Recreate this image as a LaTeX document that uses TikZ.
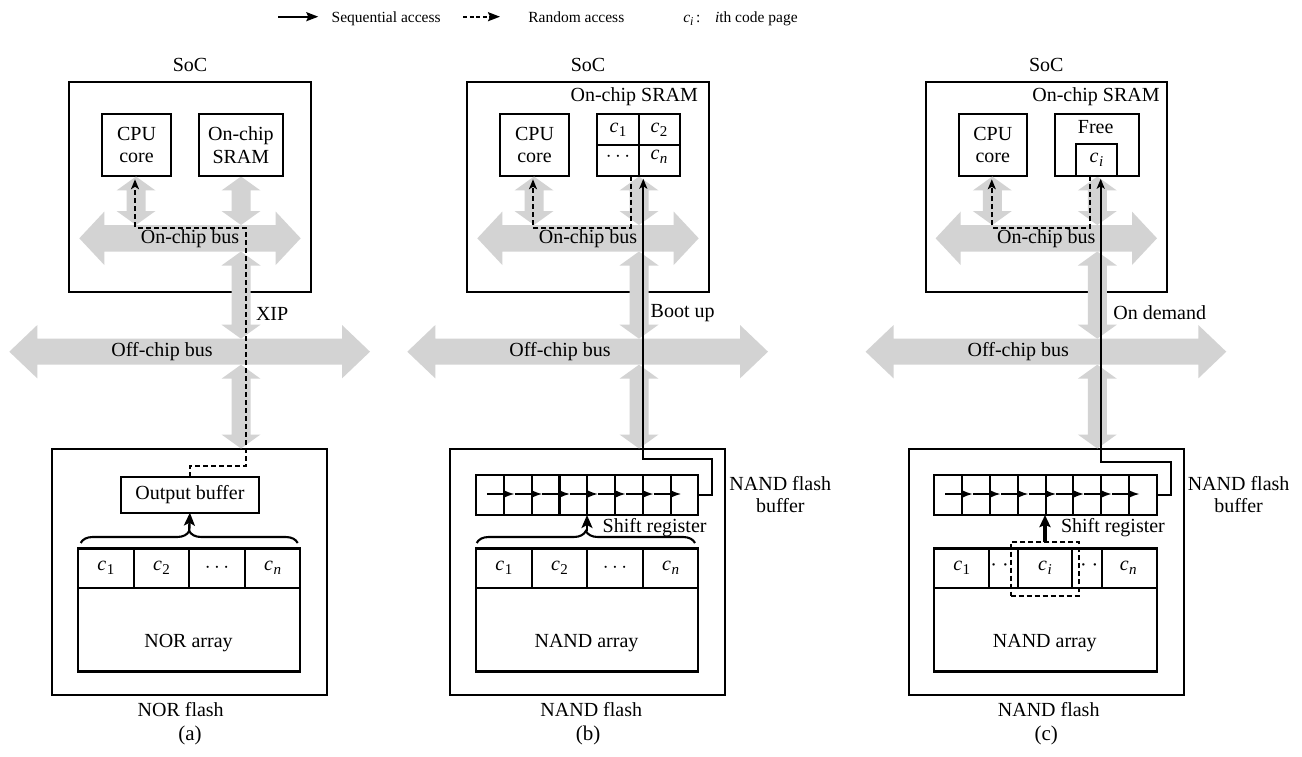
\documentclass[tikz,border=0pt]{standalone}
\usepackage{fontspec}
\setmainfont{Liberation Serif}
\usetikzlibrary{arrows.meta,decorations.pathreplacing,calc}
\definecolor{busgray}{RGB}{211,211,211}
% code page symbol c with a subscript
\newcommand\cpg[1]{\textit{c}\kern0.5pt\raisebox{-0.45ex}{\fontsize{15}{15}\selectfont #1}}

\tikzset{
  every node/.style={font=\fontsize{20}{22.7}\selectfont, inner sep=0pt, outer sep=0pt},
  blk/.style={draw, line width=2.1pt, align=center},
  rnd/.style={line width=2pt, dash pattern=on 5pt off 3pt},
  seq/.style={line width=2.1pt},
  acc/.style={-{Stealth[length=10pt,width=8pt,inset=2.5pt]}},
  fat/.style={line width=2.4pt, -{Stealth[length=13pt,width=11pt,inset=3pt]}},
  shiftarr/.style={line width=1.7pt, -{Latex[length=11pt,width=8pt]}},
  lgd/.style={font=\fontsize{15.5}{18}\selectfont, anchor=base west},
}

% horizontal double-headed bus: x1, x2, y, shaft half-width, head half-width, head length
\newcommand\hbus[6]{\fill[busgray] (#1,#3) -- ({#1+#6},{#3-#5}) -- ({#1+#6},{#3-#4}) -- ({#2-#6},{#3-#4}) -- ({#2-#6},{#3-#5}) -- (#2,#3) -- ({#2-#6},{#3+#5}) -- ({#2-#6},{#3+#4}) -- ({#1+#6},{#3+#4}) -- ({#1+#6},{#3+#5}) -- cycle;}
% vertical double-headed bus: x, y1, y2, shaft half-width, head half-width, head length
\newcommand\vbus[6]{\fill[busgray] (#1,#2) -- ({#1+#5},{#2+#6}) -- ({#1+#4},{#2+#6}) -- ({#1+#4},{#3-#6}) -- ({#1+#5},{#3-#6}) -- (#1,#3) -- ({#1-#5},{#3-#6}) -- ({#1-#4},{#3-#6}) -- ({#1-#4},{#2+#6}) -- ({#1-#5},{#2+#6}) -- cycle;}

% SoC, flash chip and the two buses, shared by all three panels
\newcommand\panelframe[1]{%
  \node (#1soclbl) at (190,65) {SoC};
  \node[blk, minimum width=241.7pt, minimum height=210pt] (#1soc) at (190.2,186.7) {};
  \node[blk, minimum width=68.4pt, minimum height=61.7pt] (#1cpu) at (136.5,144.9) {CPU\\core};
  \node[blk, minimum width=275pt, minimum height=246pt] (#1flash) at (189.8,572) {};
  \hbus{79.3}{300.7}{238.3}{13.2}{26.7}{25}
  \vbus{136}{176.5}{225}{9.5}{19.5}{14}
  \vbus{241}{176.5}{225}{9.5}{19.5}{14}
  \vbus{241}{251.5}{338.7}{9.5}{19.5}{14}
  \hbus{9.3}{370}{351.7}{13}{26.7}{28}
  \vbus{241}{364.7}{448.5}{9.5}{19.5}{14}
  \node (#1onbus) at (190,238.3) {On-chip bus};
  \node (#1offbus) at (162,351.7) {Off-chip bus};
  \node[font=\fontsize{21}{24}\selectfont] (#1panel) at (190,735) {(#1)};
}
% memory array with its row of code pages
\newcommand\flasharray[2]{%
  \node[blk, minimum width=222.3pt, minimum height=123pt] (#1arr) at (189.25,610) {};
  \draw[seq] (78.1,588) -- (300.4,588);
  \node (#1arrlbl) at (188.5,643.3) {#2};
}
% shift register with its eight cells
\newcommand\shiftreg[1]{%
  \node[blk, minimum width=222.3pt, minimum height=40pt] (#1reg) at (189.25,495) {};
  \foreach \k in {1,...,7}{
    \draw[seq] ({78.1+\k*27.79},475) -- ({78.1+\k*27.79},515);
    \draw[shiftarr] ({78.1+\k*27.79-17},494) -- ({78.1+\k*27.79+10.7},494);
  }
  \node[anchor=west] (#1reglbl) at (204.7,527.5) {Shift register};
  \node[align=center] (#1buflbl) at (382.3,494.7) {NAND flash\\buffer};
}

\begin{document}
\begin{tikzpicture}[x=1pt,y=-1pt]
\useasboundingbox (0,0) rectangle (1302,757);

% ---------- legend ----------
\coordinate (ls0) at (278,16.7);
\coordinate (ls1) at (318.3,16.7);
\draw[line width=2pt, -{Stealth[length=12pt,width=9pt,inset=2pt]}] (ls0) -- (ls1);
\node[lgd] (lseq) at (331.7,22.5) {Sequential access};
\coordinate (ld0) at (463.3,16.7);
\coordinate (ld1) at (500,16.7);
\draw[line width=2pt, dash pattern=on 4pt off 2.5pt, -{Stealth[length=12pt,width=9pt,inset=2pt]}] (ld0) -- (ld1);
\node[lgd] (lrnd) at (528.3,22.5) {Random access};
\node[lgd] (lci) at (683.3,22.5) {\textit{c}\raisebox{-0.4ex}{\fontsize{12}{12}\selectfont\textit{i}}\,:};
\node[lgd] (lpage) at (715,22.5) {\textit{i}th code page};

% ---------- (a) NOR flash, execute in place ----------
\begin{scope}
\panelframe{a}
\node[blk, minimum width=83.7pt, minimum height=61.7pt] (asram) at (240.85,144.9) {On-chip\\SRAM};
\node[blk, minimum width=138.3pt, minimum height=36pt] (aob) at (189.9,494.7) {Output buffer};
\flasharray{a}{NOR array}
\foreach \x in {133.7,189.25,244.8} \draw[seq] (\x,548.5) -- (\x,588);
\node (ac1) at (105.9,568) {\cpg{1}};
\node (ac2) at (161.5,568) {\cpg{2}};
\node (acd) at (217,568) {$\cdots$};
\node (acn) at (272.6,568) {\cpg{\textit{n}}};
\node (aflashlbl) at (180.7,710) {NOR flash};
\draw[seq, decorate, decoration={brace, amplitude=12pt}] (80.7,543) -- (297.7,543);
\coordinate (abr) at (189.2,531);
\draw[fat] (abr) -- (aob.south);
\draw[rnd, acc] (aob.north) |- (245.7,466) -- (245.7,227.5) -| ($(acpu.south)+(-1.5,3.5)$);
\node[anchor=west] (axip) at (256,314.3) {XIP};
\end{scope}

% ---------- (b) NAND flash, shadowing at boot ----------
\begin{scope}[xshift=398pt]
\panelframe{b}
\node (bsramlbl) at (236.2,96.7) {On-chip SRAM};
\node[blk, minimum width=83pt, minimum height=61.7pt] (bsram) at (240.8,144.9) {};
\draw[seq] (bsram.north) -- (bsram.south);
\draw[seq] (bsram.west) -- (bsram.east);
\node (bs1) at (220,130) {\cpg{1}};
\node (bs2) at (261,130) {\cpg{2}};
\node (bsd) at (220,157) {$\cdots$};
\node (bsn) at (261,157) {\cpg{\textit{n}}};
\shiftreg{b}
\flasharray{b}{NAND array}
\foreach \x in {133.7,189.25,244.8} \draw[seq] (\x,548.5) -- (\x,588);
\node (bc1) at (105.9,568) {\cpg{1}};
\node (bc2) at (161.5,568) {\cpg{2}};
\node (bcd) at (217,568) {$\cdots$};
\node (bcn) at (272.6,568) {\cpg{\textit{n}}};
\node (bflashlbl) at (193.3,710) {NAND flash};
\draw[seq, decorate, decoration={brace, amplitude=12pt}] (78.7,543) -- (297,543);
\coordinate (bbr) at (189,531);
\draw[fat] (bbr) -- (bbr |- breg.south);
\draw[seq, acc] (breg.east) -| (313.7,459.3) -| ($(bsram.south)+(4.5,3)$);
\draw[rnd, acc] ($(bsram.south)+(-8.1,0)$) |- (150,227.5) -| ($(bcpu.south)+(-1.5,3.5)$);
\node[anchor=west] (bboot) at (252.7,312.7) {Boot up};
\end{scope}

% ---------- (c) NAND flash, demand paging ----------
\begin{scope}[xshift=856.3pt]
\panelframe{c}
\node (csramlbl) at (239.7,96.7) {On-chip SRAM};
\node[blk, minimum width=83.4pt, minimum height=61.7pt] (cfree) at (240.7,144.9) {};
\node (cfreelbl) at (239.4,127.3) {Free};
\node[blk, minimum width=41.6pt, minimum height=31.4pt] (cci) at (240.2,160.05) {\cpg{\textit{i}}};
\shiftreg{c}
\flasharray{c}{NAND array}
\foreach \x in {133,162,216,245.4} \draw[seq] (\x,548.5) -- (\x,588);
\node (cc1) at (105.4,568) {\cpg{1}};
\node (ccd1) at (143.2,568) {·\hspace{5pt}·};
\node (cci2) at (188.7,568) {\cpg{\textit{i}}};
\node (ccd2) at (232.9,568) {·\hspace{5pt}·};
\node (ccn) at (272,568) {\cpg{\textit{n}}};
\node[draw, rnd, minimum width=68.6pt, minimum height=53.4pt] (cdash) at (188.7,569) {};
\node (cflashlbl) at (192.4,710) {NAND flash};
\draw[line width=3.2pt, -{Stealth[length=12pt,width=11pt,inset=2pt]}] (cdash.north) -- (creg.south -| cdash.north);
\draw[seq, acc] (creg.east) -| (314.4,462.3) -| ($(cci.south)+(4.2,3)$);
\draw[rnd, acc] ($(cci.south)+(-6.5,0)$) |- (150,227.5) -| ($(ccpu.south)+(-1,3.5)$);
\node[anchor=west] (cdemand) at (257,312.7) {On demand};
\end{scope}

\end{tikzpicture}
\end{document}
